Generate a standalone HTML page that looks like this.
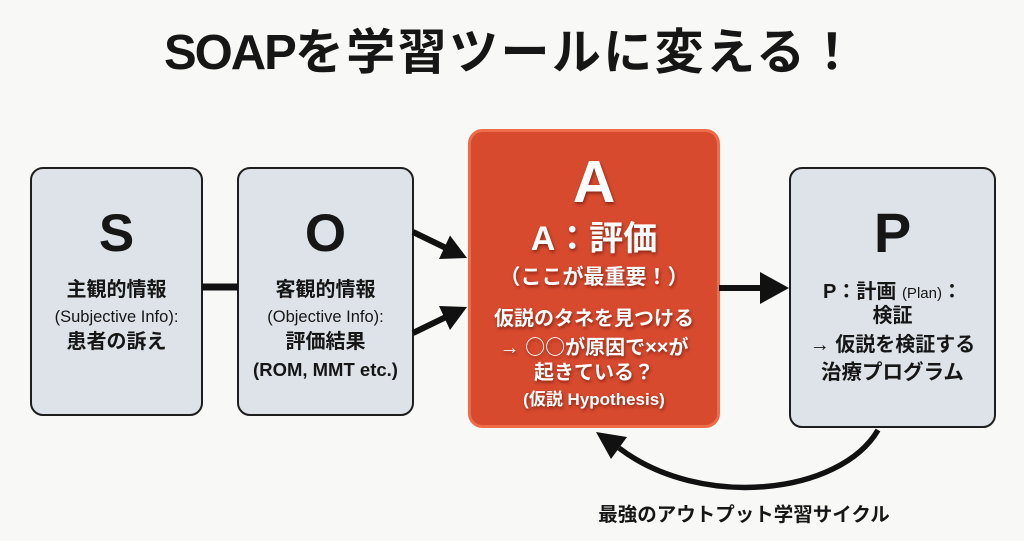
<!DOCTYPE html>
<html>
<head>
<meta charset="utf-8">
<style>
  html,body{margin:0;padding:0;}
  body{width:1024px;height:541px;background:#f8f8f6;position:relative;overflow:hidden;
    font-family:"Liberation Sans","Noto Sans CJK JP",sans-serif;color:#161616;}
  svg{position:absolute;left:0;top:0;}
  .t{position:absolute;text-align:center;white-space:nowrap;font-weight:bold;}
  .w{color:#fff;text-shadow:1px 2px 3px rgba(70,10,0,0.55);}
  .r{font-weight:normal;}
  .cjk{font-family:"Noto Sans CJK JP",sans-serif;}
</style>
</head>
<body>
<svg width="1024" height="541" viewBox="0 0 1024 541">
  <!-- S box -->
  <rect x="31" y="168" width="171" height="247" rx="12" fill="#dde3e8" stroke="#1e1e1e" stroke-width="2"/>
  <!-- O box -->
  <rect x="238" y="168" width="175" height="247" rx="12" fill="#dde3e8" stroke="#1e1e1e" stroke-width="2"/>
  <!-- P box -->
  <rect x="790" y="168" width="205" height="259" rx="12" fill="#dde3e8" stroke="#1e1e1e" stroke-width="2"/>
  <!-- A box -->
  <rect x="469.5" y="130.5" width="249" height="296" rx="13" fill="#d84a2e" stroke="#ee6c47" stroke-width="3"/>

  <!-- S-O connector -->
  <line x1="202" y1="287" x2="238" y2="287" stroke="#111" stroke-width="7"/>

  <!-- O->A upper arrow -->
  <line x1="413" y1="232" x2="446" y2="248" stroke="#111" stroke-width="6"/>
  <polygon points="467,258 450,235.5 439,259" fill="#111"/>
  <!-- O->A lower arrow -->
  <line x1="413" y1="333" x2="446" y2="317" stroke="#111" stroke-width="6"/>
  <polygon points="467,307 450,330 439,306" fill="#111"/>

  <!-- A->P arrow -->
  <line x1="719" y1="288" x2="764" y2="288" stroke="#111" stroke-width="6"/>
  <polygon points="760,272 789,288 760,304" fill="#111"/>

  <!-- feedback curve -->
  <path d="M 878 430 C 840 495, 700 510, 619 448" fill="none" stroke="#111" stroke-width="5.5"/>
  <polygon points="596,432 627,437 611,459" fill="#111"/>
</svg>

<!-- Title -->
<div class="t" style="left:164px;top:28px;line-height:50px;font-size:49px;"><span style="letter-spacing:-2px;">SOAP</span><span style="letter-spacing:2.4px;">を学習ツールに変える！</span></div>

<!-- S box text -->
<div class="t" style="left:31px;width:171px;top:204px;line-height:60px;font-size:53px;">S</div>
<div class="t" style="left:31px;width:171px;top:276px;line-height:28px;font-size:20px;">主観的情報</div>
<div class="t r" style="left:31px;width:171px;top:305px;line-height:24px;font-size:16.5px;">(Subjective Info):</div>
<div class="t" style="left:31px;width:171px;top:328px;line-height:28px;font-size:20px;">患者の訴え</div>

<!-- O box text -->
<div class="t" style="left:238px;width:175px;top:204px;line-height:60px;font-size:53px;">O</div>
<div class="t" style="left:238px;width:175px;top:276px;line-height:28px;font-size:20px;">客観的情報</div>
<div class="t r" style="left:238px;width:175px;top:305px;line-height:24px;font-size:16.5px;">(Objective Info):</div>
<div class="t" style="left:238px;width:175px;top:328px;line-height:28px;font-size:20px;">評価結果</div>
<div class="t" style="left:238px;width:175px;top:356px;line-height:28px;font-size:18.5px;">(ROM, MMT etc.)</div>

<!-- A box text -->
<div class="t w" style="left:469px;width:250px;top:150px;line-height:64px;font-size:59px;">A</div>
<div class="t w" style="left:469px;width:250px;top:219px;line-height:40px;font-size:34px;">A：評価</div>
<div class="t w" style="left:469px;width:250px;top:263px;line-height:30px;font-size:21px;">（ここが最重要！）</div>
<div class="t w" style="left:469px;width:250px;top:305px;line-height:28px;font-size:20px;">仮説のタネを見つける</div>
<div class="t w" style="left:469px;width:250px;top:332px;line-height:28px;font-size:20px;">→ <span class="cjk">○○</span>が原因で××が</div>
<div class="t w" style="left:469px;width:250px;top:359px;line-height:28px;font-size:20px;">起きている？</div>
<div class="t w" style="left:469px;width:250px;top:388px;line-height:24px;font-size:17px;">(仮説 Hypothesis)</div>

<!-- P box text -->
<div class="t" style="left:790px;width:205px;top:201px;line-height:64px;font-size:56px;">P</div>
<div class="t" style="left:790px;width:205px;top:278px;line-height:28px;font-size:20px;">P：計画 <span style="font-size:15px;font-weight:normal;">(Plan)</span>：</div>
<div class="t" style="left:790px;width:205px;top:302px;line-height:28px;font-size:20px;">検証</div>
<div class="t" style="left:790px;width:205px;top:331px;line-height:28px;font-size:20px;">→ 仮説を検証する</div>
<div class="t" style="left:790px;width:205px;top:359px;line-height:28px;font-size:20.5px;">治療プログラム</div>

<!-- cycle label -->
<div class="t" style="left:598px;width:292px;top:501px;line-height:28px;font-size:19.5px;">最強のアウトプット学習サイクル</div>
</body>
</html>
